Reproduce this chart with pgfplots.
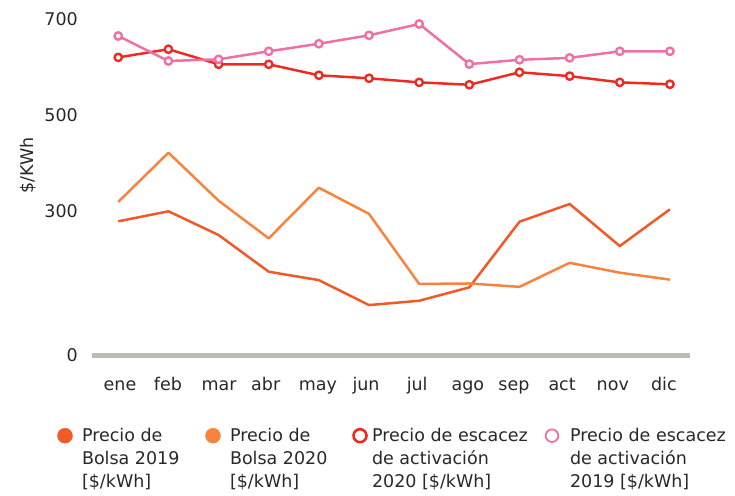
\documentclass[border=0pt]{standalone}
\usepackage{fontspec}
\setmainfont{DejaVu Sans}
\usepackage{pgfplots}
\pgfplotsset{compat=1.18}
\definecolor{txt}{RGB}{40,40,40}
\definecolor{bolsaA}{RGB}{240,90,38}
\definecolor{bolsaB}{RGB}{246,132,62}
\definecolor{escA}{RGB}{236,44,36}
\definecolor{escB}{RGB}{238,112,165}
\definecolor{base}{RGB}{188,188,180}
\begin{document}
\begin{tikzpicture}
\begin{axis}[
  at={(0,0)}, anchor=south west,
  scale only axis, width=598pt, height=336pt,
  xmin=-0.524, xmax=11.4, ymin=0, ymax=700,
  axis line style={draw=none}, tick style={draw=none},
  xtick={0.034,0.99,2.01,2.94,3.98,4.94,5.96,6.97,7.89,8.85,9.86,10.88},
  xticklabels={ene,feb,mar,abr,may,jun,jul,ago,sep,act,nov,dic},
  ytick={0,300,500,700},
  /pgf/number format/assume math mode=true,
  font=\fontsize{17.5}{21}\selectfont,
  ticklabel style={font=\fontsize{17.5}{21}\selectfont, text=txt},
  yticklabel style={anchor=east, inner sep=0pt, xshift=-14pt},
  xticklabel style={anchor=base, inner sep=0pt, yshift=-35pt},
  ylabel={\$/KWh},
  ylabel style={at={(rel axis cs:-0.107,0.565)}, anchor=center, inner sep=0pt, text=txt, font=\fontsize{17.5}{21}\selectfont},
  clip=false,
  legend columns=4,
  legend style={at={(rel axis cs:-0.0585,-0.1985)}, anchor=north west,
    draw=none, fill=none, inner sep=0pt, outer sep=0pt,
    column sep=0pt, row sep=0pt,
    font=\fontsize{17.5}{23}\selectfont,
    cells={anchor=base west},
    nodes={inner sep=0pt, anchor=base west, text=txt}},
]
\addplot[forget plot, draw=base, line width=5pt] coordinates {(-0.524,0) (11.4,0)};

\addplot[forget plot, draw=bolsaA, line width=2.5pt, line join=round] coordinates {
(0,278.5) (1,299.4) (2,250) (3,173.5) (4,156) (5,104) (6,113) (7,141) (8,277.7) (9,314.6) (10,227) (11,303.5)};

\addplot[forget plot, draw=bolsaB, line width=2.5pt, line join=round] coordinates {
(0,319) (1,421.5) (2,321.5) (3,243) (4,348.5) (5,294) (6,148) (7,149) (8,142) (9,192) (10,171.5) (11,157)};

\addplot[forget plot, draw=escA, line width=2.5pt, line join=round, mark=*, mark size=3.7pt,
  mark options={fill=white, draw=escA, line width=2.4pt}] coordinates {
(0,620) (1,637) (2,605.6) (3,605.6) (4,582.7) (5,576.5) (6,568) (7,563) (8,589) (9,581) (10,568) (11,564)};

\addplot[forget plot, draw=escB, line width=2.5pt, line join=round, mark=*, mark size=3.7pt,
  mark options={fill=white, draw=escB, line width=2.4pt}] coordinates {
(0,664.6) (1,612.5) (2,616) (3,632.7) (4,648.5) (5,666) (6,689.6) (7,606) (8,615) (9,619) (10,632.7) (11,632.7)};

\addlegendimage{legend image code/.code={\fill[bolsaA] (0pt,6pt) circle (7.5pt); \path[draw=none,fill=none] (-8pt,-2pt) rectangle (17pt,20pt);}}
\addlegendentry{\makebox[123pt][l]{\begin{tabular}[t]{@{}l@{}}Precio de\\Bolsa 2019\\{}[\$/kWh]\end{tabular}}}
\addlegendimage{legend image code/.code={\fill[bolsaB] (0pt,6pt) circle (7.5pt); \path[draw=none,fill=none] (-8pt,-2pt) rectangle (17pt,20pt);}}
\addlegendentry{\makebox[122pt][l]{\begin{tabular}[t]{@{}l@{}}Precio de\\Bolsa 2020\\{}[\$/kWh]\end{tabular}}}
\addlegendimage{legend image code/.code={\draw[escA, line width=2.6pt, fill=white] (0pt,6pt) circle (6.5pt); \path[draw=none,fill=none] (-8pt,-2pt) rectangle (12pt,20pt);}}
\addlegendentry{\makebox[172pt][l]{\begin{tabular}[t]{@{}l@{}}Precio de escacez\\de activación\\2020 [\$/kWh]\end{tabular}}}
\addlegendimage{legend image code/.code={\draw[escB, line width=1.8pt, fill=white] (0pt,6pt) circle (6.3pt); \path[draw=none,fill=none] (-8pt,-2pt) rectangle (18pt,20pt);}}
\addlegendentry{\begin{tabular}[t]{@{}l@{}}Precio de escacez\\de activación\\2019 [\$/kWh]\end{tabular}}
\end{axis}
\pgfresetboundingbox
\path (-92pt,-140pt) rectangle (643pt,355pt);
\end{tikzpicture}
\end{document}
